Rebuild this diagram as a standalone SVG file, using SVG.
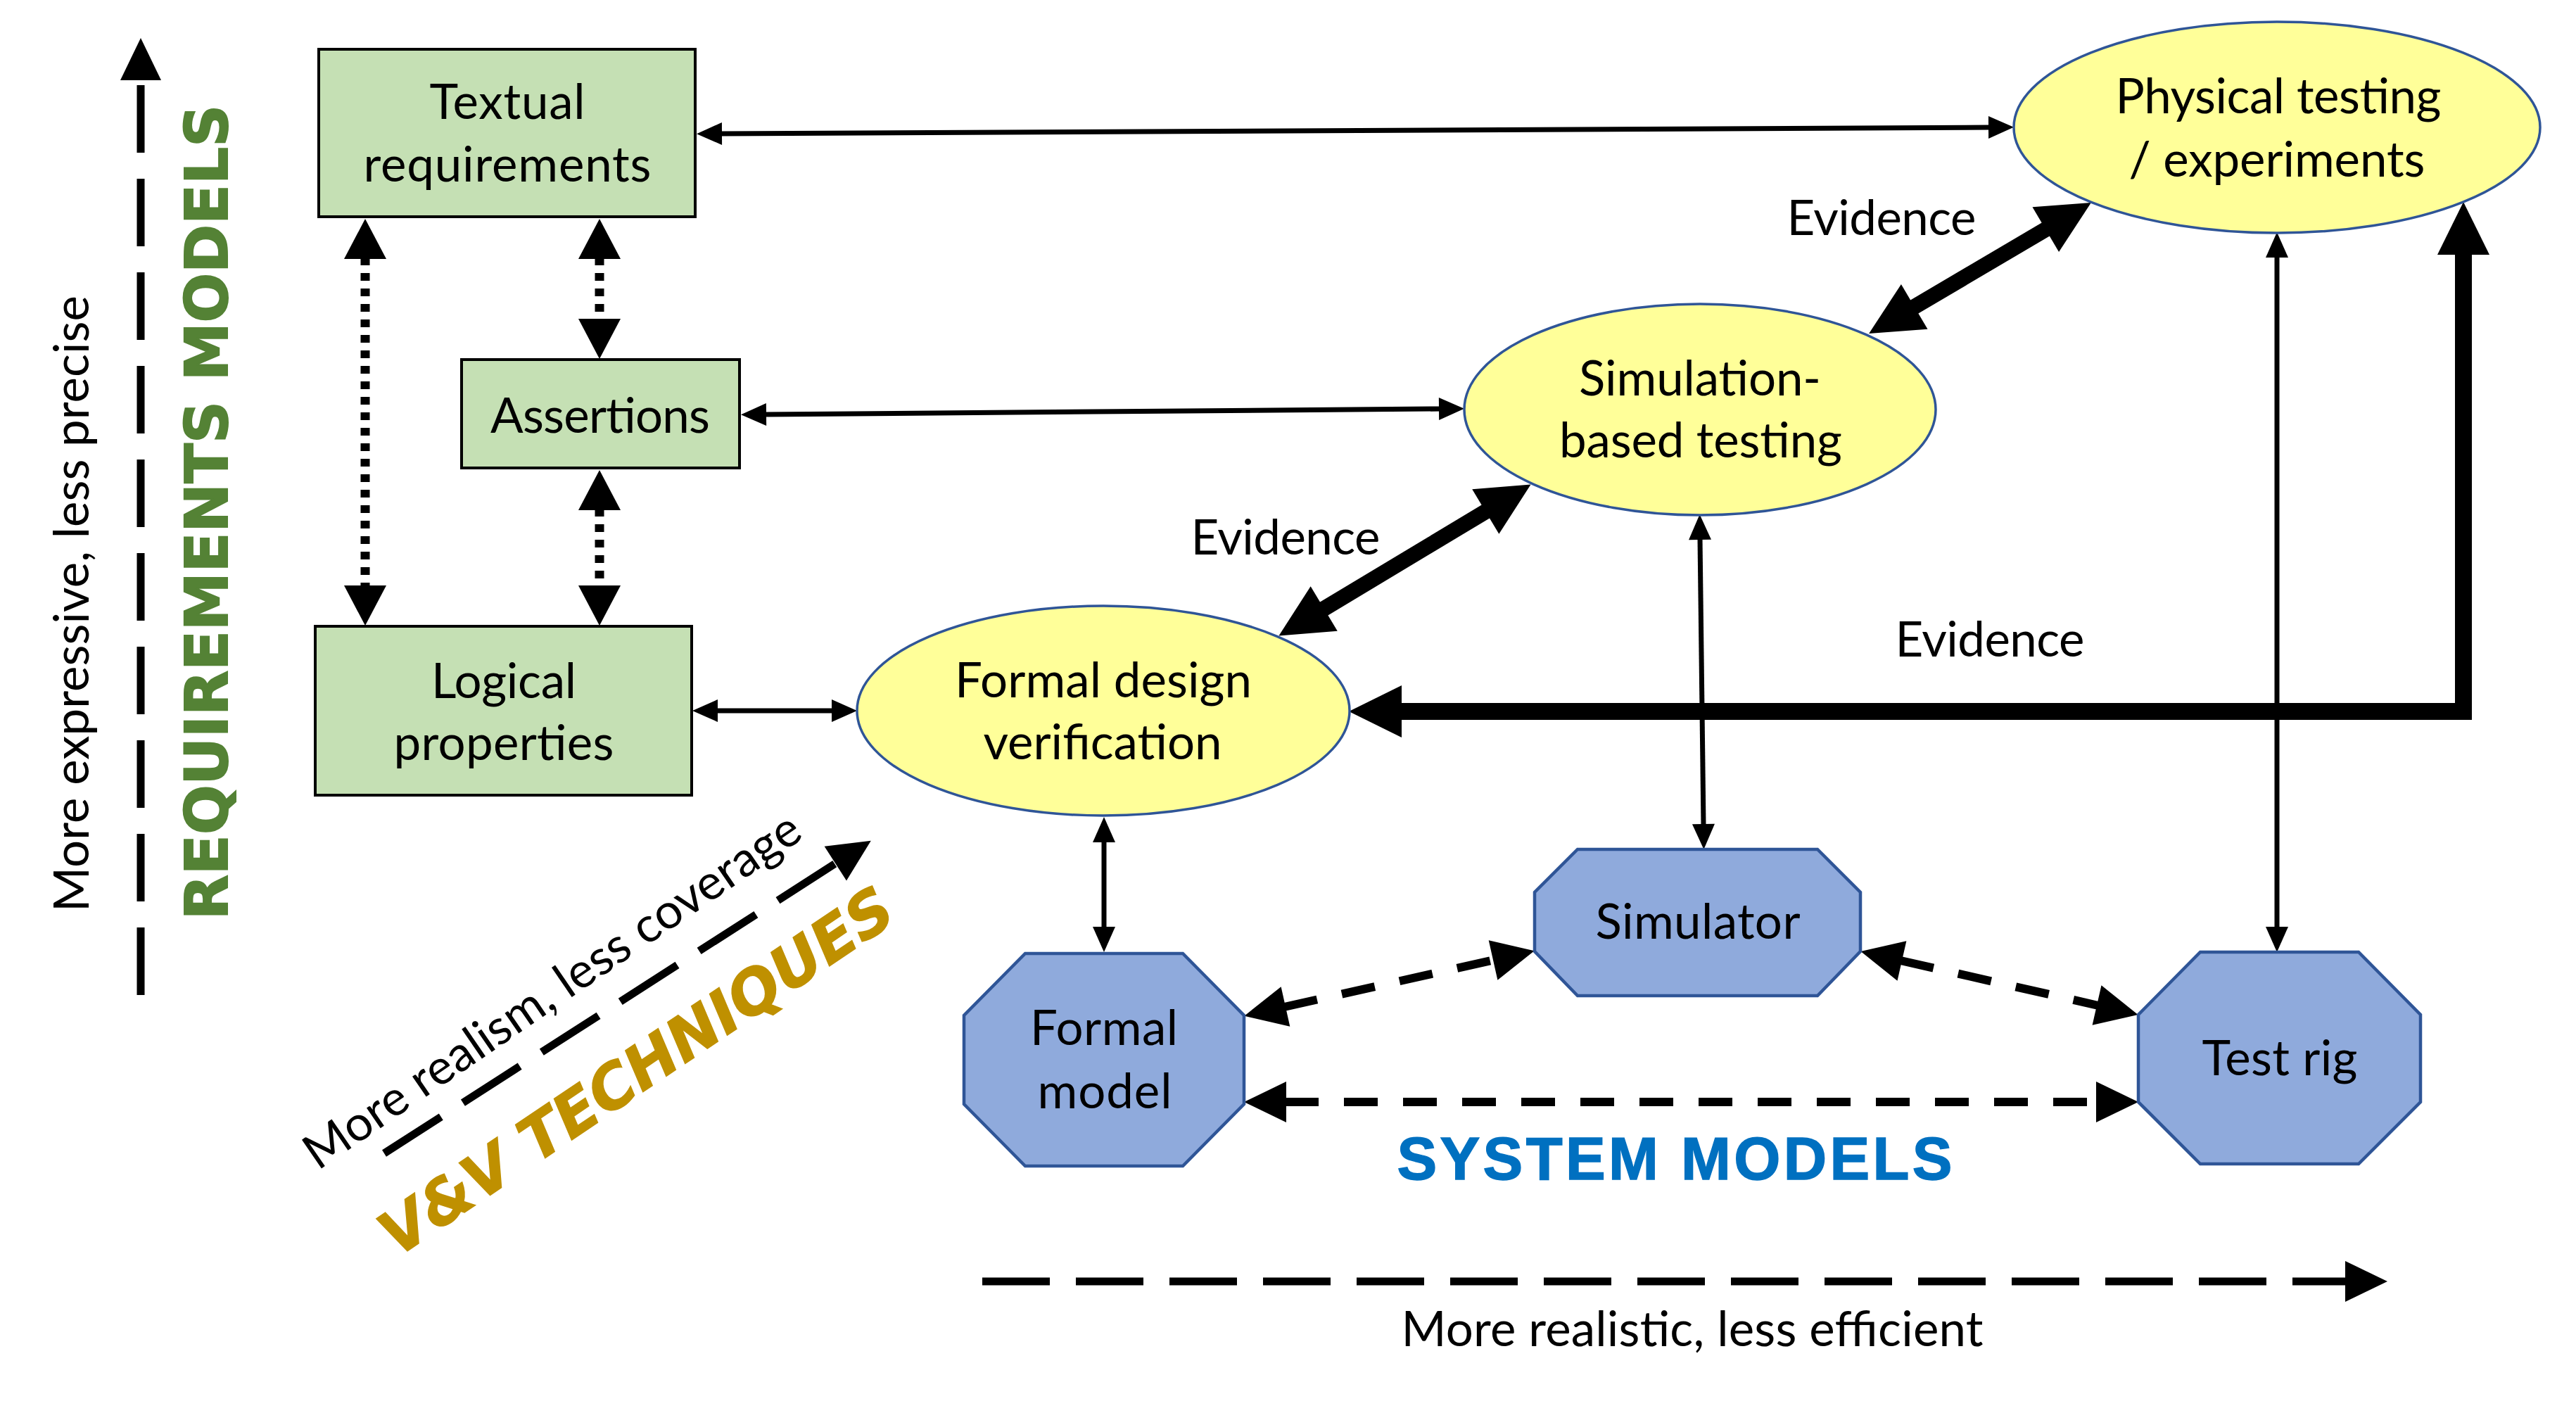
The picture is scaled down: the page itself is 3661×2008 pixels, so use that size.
<svg xmlns="http://www.w3.org/2000/svg" width="3661" height="2008" viewBox="0 0 3661 2008">
<style>
.box{fill:#C5E0B4;stroke:#000;stroke-width:4}
.ell{fill:#FFFF99;stroke:#2F5597;stroke-width:3.5}
.oct{fill:#8FAADC;stroke:#2F5597;stroke-width:4.5}
.t{font-family:Lato,"Open Sans","Liberation Sans",sans-serif;font-size:69px;fill:#000;text-anchor:middle}
.thin{fill:none;stroke:#000;stroke-width:7;marker-start:url(#hThin);marker-end:url(#hThin)}
.dot{fill:none;stroke:#000;stroke-width:13;stroke-dasharray:11 11;marker-start:url(#hDot);marker-end:url(#hDot)}
.sysd{fill:none;stroke:#000;stroke-width:12;stroke-dasharray:48 36;marker-start:url(#hDash);marker-end:url(#hDash)}
.axis{fill:none;stroke:#000;stroke-width:11;stroke-dasharray:96 37;marker-end:url(#hDash)}
.ev{fill:none;stroke:#000;stroke-width:22;marker-start:url(#hThick);marker-end:url(#hThick)}
.big{font-family:"DejaVu Sans",Verdana,sans-serif;font-weight:bold}
.bold{font-family:"Liberation Sans",Arial,sans-serif;font-weight:bold}
</style>
<defs>
<marker id="hThin" markerUnits="userSpaceOnUse" markerWidth="36" markerHeight="32" refX="0" refY="16" orient="auto-start-reverse" overflow="visible"><path d="M-2,0 L34,16 L-2,32 z" fill="#000"/></marker>
<marker id="hThick" markerUnits="userSpaceOnUse" markerWidth="75" markerHeight="74" refX="0" refY="37" orient="auto-start-reverse" overflow="visible"><path d="M-2,0 L73,37 L-2,74 z" fill="#000"/></marker>
<marker id="hDash" markerUnits="userSpaceOnUse" markerWidth="60" markerHeight="58" refX="0" refY="29" orient="auto-start-reverse" overflow="visible"><path d="M-2,0 L58,29 L-2,58 z" fill="#000"/></marker>
<marker id="hDot" markerUnits="userSpaceOnUse" markerWidth="57" markerHeight="60" refX="0" refY="30" orient="auto-start-reverse" overflow="visible"><path d="M-2,0 L55,30 L-2,60 z" fill="#000"/></marker>
</defs>
<rect width="3661" height="2008" fill="#fff"/>

<g id="connectors">
<path class="thin" d="M1024,190 L2828,181"/>
<path class="thin" d="M1087,589 L2047,581"/>
<path class="thin" d="M1018,1010 L1184,1010"/>
<path class="thin" d="M1569,1195 L1569,1319"/>
<path class="thin" d="M2416,765 L2421,1173"/>
<path class="thin" d="M3236,364 L3236,1319"/>
<path class="dot" d="M519,366 L519,834"/>
<path class="dot" d="M852,366 L852,455"/>
<path class="dot" d="M852,723 L852,834"/>
<path class="sysd" d="M1825,1431 L2124,1364"/>
<path class="sysd" d="M2701,1365 L2982,1429"/>
<path class="sysd" d="M1826,1566 L2981,1566"/>
<path class="ev" d="M1880,866 L2113,726"/>
<path class="ev" d="M2719,437 L2909,325"/>
<path class="ev" style="stroke-width:24;stroke-linejoin:miter" d="M1990,1011 L3501,1011 L3501,360"/>
</g>

<g id="axes">
<path class="axis" d="M200,1414 L200,112"/>
<path class="axis" d="M1396,1821 L3335,1821"/>
<path class="axis" d="M546,1639 L1189,1226"/>
<text class="t" transform="translate(126,858) rotate(-90)" textLength="876">More expressive, less precise</text>
<text class="big" transform="translate(323,728) rotate(-90)" font-size="83" fill="#548235" stroke="#548235" stroke-width="2" text-anchor="middle" textLength="1158">REQUIREMENTS MODELS</text>
<text class="t" transform="translate(798,1427) rotate(-34.4)" textLength="839">More realism, less coverage</text>
<text class="big" transform="translate(921,1547) rotate(-34)" font-size="86" font-style="italic" fill="#BF9000" stroke="#BF9000" stroke-width="1.5" text-anchor="middle" textLength="860">V&amp;V TECHNIQUES</text>
<text class="bold" x="2380" y="1676" font-size="85" fill="#0070C0" stroke="#0070C0" stroke-width="1.5" text-anchor="middle" textLength="789">SYSTEM MODELS</text>
<text class="t" x="2405" y="1913" textLength="827">More realistic, less efficient</text>
</g>

<g id="labels">
<text class="t" x="1827" y="788" textLength="269">Evidence</text>
<text class="t" x="2674" y="334" textLength="269">Evidence</text>
<text class="t" x="2828" y="933" textLength="269">Evidence</text>
</g>

<g id="n-textual">
<rect class="box" x="453" y="70" width="535" height="238"/>
<text class="t" x="721" y="169" textLength="221">Textual</text>
<text class="t" x="721" y="258" textLength="409">requirements</text>
</g>
<g id="n-assertions">
<rect class="box" x="656" y="511" width="395" height="154"/>
<text class="t" x="853" y="615" textLength="312">Assertions</text>
</g>
<g id="n-logical">
<rect class="box" x="448" y="890" width="535" height="240"/>
<text class="t" x="716" y="992" textLength="206">Logical</text>
<text class="t" x="716" y="1080" textLength="313">properties</text>
</g>
<g id="n-physical">
<ellipse class="ell" cx="3236" cy="181" rx="374" ry="150"/>
<text class="t" x="3238" y="161" textLength="463">Physical testing</text>
<text class="t" x="3236" y="251" textLength="421">/ experiments</text>
</g>
<g id="n-simulation">
<ellipse class="ell" cx="2416" cy="582" rx="335" ry="150"/>
<text class="t" x="2416" y="562" textLength="344">Simulation-</text>
<text class="t" x="2417" y="650" textLength="402">based testing</text>
</g>
<g id="n-formaldesign">
<ellipse class="ell" cx="1568" cy="1010" rx="350" ry="149"/>
<text class="t" x="1568" y="991" textLength="422">Formal design</text>
<text class="t" x="1567" y="1079" textLength="339">verification</text>
</g>
<g id="n-formalmodel">
<polygon class="oct" points="1457,1355 1681,1355 1768,1443 1768,1569 1681,1657 1457,1657 1370,1569 1370,1443"/>
<text class="t" x="1569" y="1485" textLength="210">Formal</text>
<text class="t" x="1570" y="1575" textLength="191">model</text>
</g>
<g id="n-simulator">
<polygon class="oct" points="2242,1207 2583,1207 2644,1268 2644,1352 2583,1415 2242,1415 2181,1352 2181,1268"/>
<text class="t" x="2413" y="1334" textLength="291">Simulator</text>
</g>
<g id="n-testrig">
<polygon class="oct" points="3127,1353 3352,1353 3440,1442 3440,1566 3352,1654 3127,1654 3039,1566 3039,1442"/>
<text class="t" x="3240" y="1528" textLength="221">Test rig</text>
</g>
</svg>
